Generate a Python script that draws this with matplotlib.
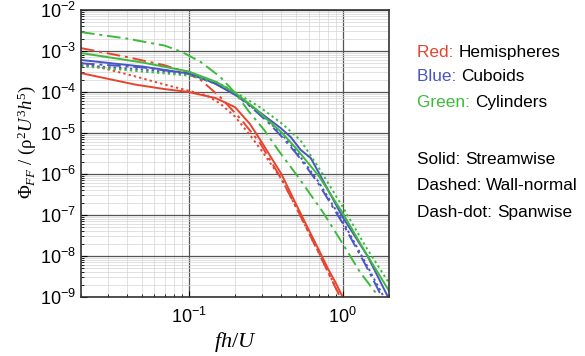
import matplotlib
matplotlib.use("Agg")
import matplotlib.pyplot as plt
import numpy as np
from matplotlib.ticker import LogLocator, FixedLocator, NullFormatter

plt.rcParams['font.family'] = ['Liberation Sans', 'DejaVu Sans']
plt.rcParams['mathtext.fontset'] = 'custom'
plt.rcParams['mathtext.rm'] = 'Liberation Serif'
plt.rcParams['mathtext.it'] = 'Liberation Serif:italic'
plt.rcParams['mathtext.sf'] = 'Liberation Sans'

# frequency fh/U and log10 of the force spectrum
# Hemispheres (red)
hemi_stream_f = [0.02, 0.03, 0.045, 0.07, 0.1, 0.15, 0.2, 0.25, 0.3, 0.35, 0.4, 0.5, 0.6, 0.7, 0.8, 0.9, 1.0]
hemi_stream_log = [-3.54, -3.68, -3.82, -3.93, -4.0, -4.15, -4.37, -4.78, -5.24, -5.65, -6.0, -6.75, -7.35, -7.85, -8.3, -8.65, -9.0]
hemi_wall_f = [0.02, 0.03, 0.045, 0.07, 0.1, 0.13, 0.16, 0.2, 0.25, 0.3, 0.4, 0.5, 0.6, 0.7, 0.8, 0.9, 0.96]
hemi_wall_log = [-3.29, -3.45, -3.62, -3.82, -3.97, -4.08, -4.28, -4.6, -5.05, -5.45, -6.12, -6.82, -7.42, -7.92, -8.37, -8.77, -9.0]
hemi_span_f = [0.02, 0.04, 0.07, 0.09, 0.12, 0.16, 0.22, 0.29, 0.4, 0.5, 0.6, 0.7, 0.8, 0.9, 0.97]
hemi_span_log = [-2.93, -3.15, -3.35, -3.48, -3.71, -4.12, -4.68, -5.24, -6.12, -6.82, -7.42, -7.93, -8.38, -8.78, -9.0]

# Cuboids (blue)
cub_stream_f = [0.02, 0.05, 0.1, 0.146, 0.218, 0.293, 0.396, 0.46, 0.533, 0.62, 0.7, 1.0, 1.45, 1.97]
cub_stream_log = [-3.22, -3.38, -3.55, -3.78, -4.15, -4.51, -4.88, -5.1, -5.41, -5.61, -5.97, -7.05, -8.0, -9.0]
cub_wall_f = [0.02, 0.05, 0.1, 0.15, 0.2, 0.26, 0.33, 0.4, 0.5, 0.7, 1.0, 1.4, 1.85]
cub_wall_log = [-3.35, -3.45, -3.57, -3.8, -4.05, -4.38, -4.72, -5.02, -5.45, -6.2, -7.15, -8.15, -9.0]
cub_span_f = [0.02, 0.05, 0.1, 0.15, 0.2, 0.26, 0.33, 0.4, 0.5, 0.6, 0.7, 1.0, 1.4, 1.8]
cub_span_log = [-3.3, -3.4, -3.55, -3.8, -4.05, -4.4, -4.75, -5.08, -5.5, -5.9, -6.25, -7.2, -8.2, -9.0]

# Cylinders (green)
cyl_stream_f = [0.02, 0.05, 0.1, 0.15, 0.2, 0.26, 0.33, 0.4, 0.5, 0.7, 1.0, 1.4, 2.0]
cyl_stream_log = [-3.05, -3.28, -3.5, -3.75, -4.02, -4.35, -4.7, -4.98, -5.38, -6.05, -6.95, -7.9, -8.85]
cyl_wall_f = [0.02, 0.05, 0.1, 0.15, 0.19, 0.29, 0.4, 0.53, 0.7, 1.0, 1.4, 2.0]
cyl_wall_log = [-3.37, -3.5, -3.6, -3.75, -3.95, -4.37, -4.76, -5.17, -5.85, -6.8, -7.75, -8.66]
cyl_span_f = [0.02, 0.04, 0.07, 0.09, 0.12, 0.16, 0.2, 0.25, 0.31, 0.38, 0.52, 0.75, 1.0, 1.3, 1.72]
cyl_span_log = [-2.54, -2.7, -2.87, -3.02, -3.27, -3.63, -4.02, -4.51, -4.93, -5.41, -6.1, -6.95, -7.7, -8.4, -9.0]

red = '#e5452f'
blue = '#4a56c2'
green = '#3dba3d'
solid = '-'
dashed = (0, (1.2, 1.6))
dashdot = (0, (7, 2.5, 1.5, 2.5))

curves = [
    (hemi_stream_f, hemi_stream_log, red, solid),
    (hemi_wall_f, hemi_wall_log, red, dashed),
    (hemi_span_f, hemi_span_log, red, dashdot),
    (cub_stream_f, cub_stream_log, blue, solid),
    (cub_wall_f, cub_wall_log, blue, dashed),
    (cub_span_f, cub_span_log, blue, dashdot),
    (cyl_stream_f, cyl_stream_log, green, solid),
    (cyl_wall_f, cyl_wall_log, green, dashed),
    (cyl_span_f, cyl_span_log, green, dashdot),
]

fig = plt.figure(figsize=(5.85, 3.56), dpi=100)
ax = fig.add_axes([0.1385, 0.1657, 0.5265, 0.8063])

for f, logv, color, ls in curves:
    ax.plot(f, 10.0 ** np.array(logv), color=color, linestyle=ls, linewidth=1.4)

ax.set_xscale('log')
ax.set_yscale('log')
ax.set_xlim(0.02, 2.0)
ax.set_ylim(1e-9, 1e-2)

ax.yaxis.set_major_locator(FixedLocator([10.0 ** k for k in range(-9, -1)]))
ax.yaxis.set_minor_locator(LogLocator(base=10, subs=np.arange(2, 10), numticks=20))
ax.xaxis.set_major_locator(FixedLocator([0.1, 1.0]))
ax.xaxis.set_minor_locator(LogLocator(base=10, subs=np.arange(2, 10), numticks=20))
ax.yaxis.set_minor_formatter(NullFormatter())
ax.xaxis.set_minor_formatter(NullFormatter())
ax.set_yticklabels([r'$\mathsf{10^{%d}}$' % k for k in range(-9, -1)])
ax.set_xticklabels([r'$\mathsf{10^{-1}}$', r'$\mathsf{10^{0}}$'])

ax.grid(which='major', color='#555555', linewidth=0.9)
ax.grid(which='minor', color='#d4d4d4', linewidth=0.5)
ax.set_axisbelow(True)
ax.tick_params(which='both', direction='in', labelsize=13)
ax.tick_params(which='major', length=4)
ax.tick_params(which='minor', length=2)
ax.tick_params(axis='x', which='major', pad=7)
for spine in ax.spines.values():
    spine.set_linewidth(1.2)
    spine.set_color('#333333')

ax.set_ylabel(r'$\Phi_{FF}\ /\ (\mathrm{\rho}^2 U^3 h^5)$', fontsize=13.5)
ax.yaxis.set_label_coords(-0.14, 0.54)
ax.set_xlabel(r'$fh/U$', fontsize=16, labelpad=2)

# colour / line style key on the right
key = [
    ('Red: ', red, 'Hemispheres', 0.853),
    ('Blue: ', blue, 'Cuboids', 0.786),
    ('Green: ', green, 'Cylinders', 0.711),
    ('Solid: ', 'black', 'Streamwise', 0.551),
    ('Dashed: ', 'black', 'Wall-normal', 0.480),
    ('Dash-dot: ', 'black', 'Spanwise', 0.404),
]
for prefix, color, rest, y in key:
    t = fig.text(0.713, y, prefix, color=color, fontsize=12.4, va='center')
    ax.annotate(rest, xy=(1, 0.5), xycoords=t, va='center', ha='left',
                fontsize=12.4, color='black', annotation_clip=False)

fig.savefig('out.png', dpi=100)
